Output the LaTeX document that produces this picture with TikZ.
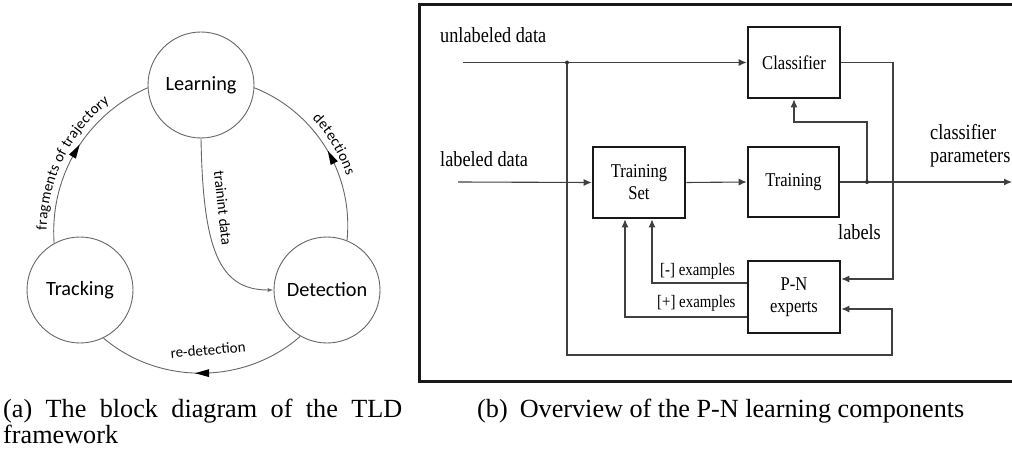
\documentclass[tikz,border=0pt]{standalone}
\usepackage{fontspec}
\setmainfont{Liberation Serif}
\newfontfamily\carl{Carlito}
\newfontfamily\condser[FakeStretch=0.85]{Liberation Serif}
\usetikzlibrary{arrows.meta,decorations.markings,decorations.text}
\begin{document}
\begin{tikzpicture}[x=1pt,y=-1pt,
  circ/.style={circle, draw=black!60, line width=0.9pt, minimum size=106pt, inner sep=0pt, font=\carl\fontsize{20.3}{22}\selectfont},
  ringline/.style={draw=black!60, line width=0.9pt},
  midarrow/.style={postaction={decorate, decoration={markings, mark=at position #1 with {\fill[black] (-7pt,-4pt) -- (7pt,0pt) -- (-7pt,4pt) -- cycle;}}}},
  alabel/.style={font=\carl\fontsize{15}{16}\selectfont, inner sep=0pt},
  blk/.style={draw=black!90, line width=2.6pt, inner sep=0pt, font=\condser\fontsize{19.5}{22}\selectfont, align=center},
  conn/.style={draw=black!75, line width=1.1pt},
  endtip/.style={-{Latex[length=8pt,width=7pt]}},
  plabel/.style={font=\condser\fontsize{21.5}{23}\selectfont, inner sep=0pt, anchor=base west},
  elabel/.style={font=\condser\fontsize{17.5}{19}\selectfont, inner sep=0pt, anchor=base west},
  jdot/.style={circle, fill=black!80, inner sep=0pt, minimum size=4pt},
]
\useasboundingbox (0,0) rectangle (1012,457);

% ---------- (a) TLD ----------
\node[circ] (L) at (201,85) {Learning};
\node[circ] (T) at (80,290) {Tracking};
\node[circ] (D) at (327,290) {Detection};

\draw[ringline, midarrow=0.5] (T.119) to[bend left=35, looseness=0.95] (L.183);
\draw[ringline, midarrow=0.45] (D.68) to[bend right=37, looseness=0.95] (L.357);
\draw[ringline, midarrow=0.5] (D.240) to[bend left=41, looseness=0.95] (T.296);
\draw[ringline, -{Latex[length=6pt,width=4pt]}] (L.south) .. controls +(2,110) and +(-55,0) .. (D.west);

\path[decorate, decoration={text along path, raise=7pt, text align={left indent=13pt},
  text={|\carl\fontsize{15}{16}\selectfont|fragments of trajectory}}]
  (T.119) to[bend left=35, looseness=0.95] (L.183);
\path[decorate, decoration={text along path, raise=7pt, text align={left indent=64pt},
  text={|\carl\fontsize{15}{16}\selectfont|detections}}]
  (L.357) to[bend left=37, looseness=0.95] (D.68);
\node[alabel, rotate=-84] (lt) at (223,208) {trainint data};
\node[alabel, rotate=5] (lr) at (208,350) {re-detection};

% ---------- (b) P-N ----------
\draw[line width=3pt, draw=black!90] (419,5) rectangle (1030,381);

\node[blk, minimum width=92pt, minimum height=71pt] (C) at (794,62.5) {Classifier};
\node[blk, minimum width=91pt, minimum height=70pt] (Tr) at (793.5,182) {Training};
\node[blk, minimum width=92pt, minimum height=71pt] (TS) at (639,182.5) {Training\\Set};
\node[blk, minimum width=92pt, minimum height=72pt] (PN) at (794,297) {P-N\\experts};

\coordinate (u0) at (463,62.5);
\coordinate (j1) at (567,62.5);
\coordinate (b1) at (567,355);
\coordinate (b2) at (892,355);
\coordinate (c1) at (893,62.5);
\coordinate (l0) at (458,182);
\coordinate (j2) at (867,182);
\coordinate (f1) at (867,122);
\coordinate (cpout) at (1012,182);

\draw[conn, endtip] (u0) -- (C.west);
\draw[conn, endtip] (j1) -- (b1) -- (b2) |- ([yshift=-12pt]PN.east);
\draw[conn, endtip] (C.east) -- (c1) |- ([yshift=18pt]PN.east);
\draw[conn, endtip] (l0) -- (TS.west);
\draw[conn, endtip] (TS.east) -- (Tr.west);
\draw[conn, endtip] (Tr.east) -- (cpout);
\draw[conn, endtip] (j2) -- (f1) -| (C.south);
\draw[conn, endtip] ([yshift=14pt]PN.west) -| ([xshift=13pt]TS.south);
\draw[conn, endtip] ([yshift=-20pt]PN.west) -| ([xshift=-14pt]TS.south);
\node[jdot] (d1) at (j1) {};
\node[jdot] (d2) at (j2) {};

\node[plabel] (ul) at (440,43) {unlabeled data};
\node[plabel] (ll) at (440,167) {labeled data};
\node[plabel] (cp1) at (930,140) {classifier};
\node[plabel] (cp2) at (930,163) {parameters};
\node[plabel] (lb) at (838,240) {labels};
\node[elabel] (en) at (660,275) {[-] examples};
\node[elabel] (ep) at (657,307) {[+] examples};

% ---------- captions ----------
\node[inner sep=0pt, anchor=base west] (capa) at (3,417) {\parbox[t]{399pt}{\fontsize{26.2}{26}\selectfont (a) The block diagram of the TLD\linebreak framework}};
\node[inner sep=0pt, anchor=base west] (capb) at (477,417) {\fontsize{26.2}{26}\selectfont (b)\hskip 12pt Overview of the P-N learning components};
\end{tikzpicture}
\end{document}
